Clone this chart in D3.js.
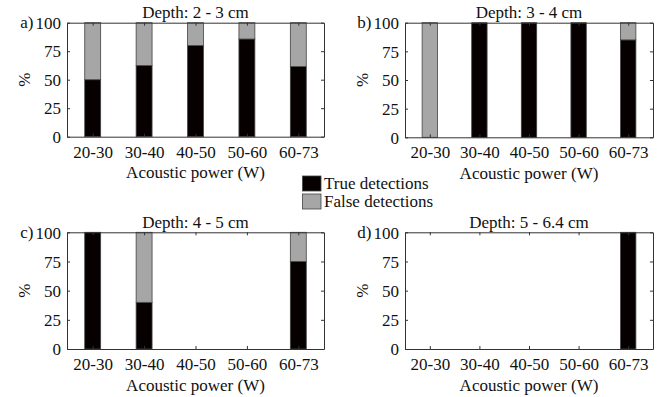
<!DOCTYPE html>
<html><head><meta charset="utf-8">
<script src="https://cdn.jsdelivr.net/npm/d3@7"></script>
<style>body{margin:0;background:#fff}svg{display:block}
svg text{font-family:"Liberation Serif","Tinos","Times New Roman","DejaVu Serif",serif !important;}</style>
</head><body>
<script>
const categories = ["20-30","30-40","40-50","50-60","60-73"];
const yTicks = [0,25,50,75,100];
const panelLabels = ["a)","b)","c)","d)"];
const panelTitles = ["Depth: 2 - 3 cm","Depth: 3 - 4 cm","Depth: 4 - 5 cm","Depth: 5 - 6.4 cm"];
const trueA = [50,62.5,80,85.7,61.5];
const falseA = [50,37.5,20,14.3,38.5];
const trueB = [0,100,100,100,85];
const falseB = [100,0,0,0,15];
const trueC = [100,40,0,0,75];
const falseC = [0,60,0,0,25];
const trueD = [0,0,0,0,100];
const falseD = [0,0,0,0,0];
const seriesNames = ["True detections","False detections"];

const W=665,H=397;
const svg=d3.select("body").append("svg").attr("width",W).attr("height",H);
const boxes=[
 {x0:67,x1:324,y0:22.7,y1:136.7},
 {x0:405,x1:653,y0:22.7,y1:137.3},
 {x0:67,x1:324,y0:232.3,y1:349},
 {x0:405,x1:653,y0:232.3,y1:349}
];
const data=[[trueA,falseA],[trueB,falseB],[trueC,falseC],[trueD,falseD]];
const colT="#060001", colF="#a6a6a6", axisCol="#333";
boxes.forEach((b,i)=>{
  const g=svg.append("g");
  const x=d3.scalePoint().domain(categories).range([b.x0,b.x1]).padding(0.5);
  const y=d3.scaleLinear().domain([0,100]).range([b.y1,b.y0]);
  const step=x.step(), bw=step*0.31;
  const [tv,fv]=data[i];
  categories.forEach((c,k)=>{
    if(tv[k]>0) g.append("rect").attr("x",x(c)-bw/2).attr("width",bw)
      .attr("y",y(tv[k])).attr("height",y(0)-y(tv[k]))
      .attr("fill",colT).attr("stroke","#444").attr("stroke-width",0.8);
    if(fv[k]>0) g.append("rect").attr("x",x(c)-bw/2).attr("width",bw)
      .attr("y",y(tv[k]+fv[k])).attr("height",y(tv[k])-y(tv[k]+fv[k]))
      .attr("fill",colF).attr("stroke","#444").attr("stroke-width",0.8);
  });
  const ax=g.append("g").attr("transform",`translate(0,${b.y1})`)
    .call(d3.axisBottom(x).tickSizeInner(-3).tickSizeOuter(0).tickPadding(9));
  const ay=g.append("g").attr("transform",`translate(${b.x0},0)`)
    .call(d3.axisLeft(y).tickValues(yTicks).tickSizeInner(-3).tickSizeOuter(0).tickPadding(6));
  const at=g.append("g").attr("transform",`translate(0,${b.y0})`)
    .call(d3.axisTop(x).tickSizeInner(-3).tickSizeOuter(0).tickFormat(""));
  const ar=g.append("g").attr("transform",`translate(${b.x1},0)`)
    .call(d3.axisRight(y).tickValues(yTicks).tickSizeInner(-3).tickSizeOuter(0).tickFormat(""));
  [ax,ay,at,ar].forEach(a=>{
    a.attr("font-family",null);
    a.selectAll("path").attr("stroke",axisCol).attr("stroke-width",1);
    a.selectAll("line").attr("stroke",axisCol);
    a.selectAll("text").attr("font-size",17).attr("fill","#111");
  });
  ay.selectAll("text").attr("dy","0.34em");
  g.append("text").attr("x",(b.x0+b.x1)/2).attr("y",b.y0-4.5).attr("text-anchor","middle")
    .attr("font-size",17).attr("fill","#111").text(panelTitles[i]);
  g.append("text").attr("x",b.x0-33.5).attr("y",b.y0).attr("dy","0.34em").attr("text-anchor","end")
    .attr("font-size",17).attr("fill","#111").text(panelLabels[i]);
  g.append("text").attr("x",(b.x0+b.x1)/2).attr("y",b.y1+41.5).attr("text-anchor","middle")
    .attr("font-size",17).attr("fill","#111").text("Acoustic power (W)");
  g.append("text").attr("transform",`translate(${b.x0-43},${(b.y0+b.y1)/2}) rotate(-90)`)
    .attr("text-anchor","middle").attr("dy","0.34em")
    .attr("font-size",17).attr("fill","#111").text("%");
});
const leg=svg.append("g");
const legCols=[colT,colF];
seriesNames.forEach((n,k)=>{
  const yy=176+k*18;
  leg.append("rect").attr("x",302.5).attr("y",yy).attr("width",18.5).attr("height",15)
    .attr("fill",legCols[k]).attr("stroke","#444").attr("stroke-width",0.8);
  leg.append("text").attr("x",324).attr("y",yy+7.5).attr("dy","0.34em")
    .attr("font-size",17).attr("fill","#111").text(n);
});
</script>
</body></html>
